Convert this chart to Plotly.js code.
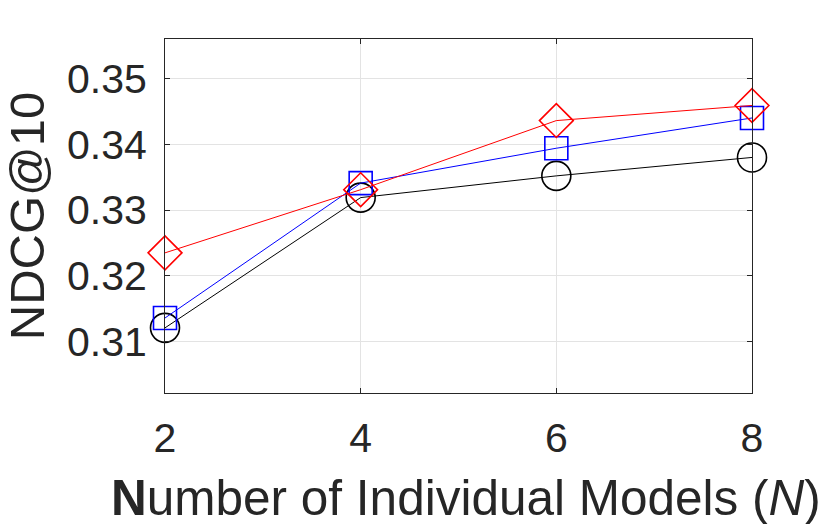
<!DOCTYPE html>
<html>
<head>
<meta charset="utf-8">
<script src="https://cdn.plot.ly/plotly-3.0.1.min.js"></script>
<style>html,body{margin:0;padding:0;background:#fff;}#chart{width:830px;height:524px;}</style>
</head>
<body>
<div id="chart"></div>
<script>
const xValues = [2, 4, 6, 8];
const seriesBlack = [0.3121, 0.3319, 0.3352, 0.3380];
const seriesBlue = [0.3136, 0.3341, 0.3394, 0.3440];
const seriesRed = [0.3235, 0.3331, 0.3436, 0.3459];
const yTickVals = [0.31, 0.32, 0.33, 0.34, 0.35];
const yTickText = ['0.31', '0.32', '0.33', '0.34', '0.35'];
const xTickVals = [2, 4, 6, 8];
const xTitle = '<b>N</b>umber of Individual Models (<i>N</i>)';
const yTitle = 'NDCG@10';

const textColor = '#262626';
function trace(y, color, symbol, size) {
  return {
    x: xValues, y: y, type: 'scatter', mode: 'lines+markers',
    line: {color: color, width: 1},
    marker: {symbol: symbol, size: size, color: color, line: {color: color, width: 1.6}},
    showlegend: false, cliponaxis: false
  };
}
const data = [
  trace(seriesBlack, '#000000', 'circle-open', 29),
  trace(seriesBlue, '#0000ff', 'square-open', 23),
  trace(seriesRed, '#ff0000', 'diamond-open', 26)
];
const layout = {
  width: 830, height: 524,
  margin: {l: 165, r: 78, t: 39, b: 131},
  paper_bgcolor: '#ffffff', plot_bgcolor: '#ffffff',
  font: {family: 'Liberation Sans, Arial, sans-serif', color: textColor},
  xaxis: {
    range: [2, 8], tickvals: xTickVals, ticktext: xTickVals.map(String),
    showgrid: true, gridcolor: '#e3e3e3', gridwidth: 1, zeroline: false,
    showline: true, linecolor: textColor, linewidth: 1, mirror: 'ticks',
    ticks: 'inside', ticklen: 5, tickcolor: textColor,
    tickfont: {size: 41, color: textColor}, ticklabelstandoff: 9,
    automargin: false
  },
  yaxis: {
    range: [0.3022, 0.356], tickvals: yTickVals, ticktext: yTickText,
    showgrid: true, gridcolor: '#e3e3e3', gridwidth: 1, zeroline: false,
    showline: true, linecolor: textColor, linewidth: 1, mirror: 'ticks',
    ticks: 'inside', ticklen: 5, tickcolor: textColor,
    tickfont: {size: 41, color: textColor}, ticklabelstandoff: 9,
    title: {text: yTitle, font: {size: 49, color: textColor}, standoff: 6},
    automargin: false
  },
  annotations: [{
    text: xTitle, xref: 'paper', yref: 'paper', x: 0.5128, y: -0.296,
    xanchor: 'center', yanchor: 'middle', showarrow: false,
    font: {size: 49.5, color: textColor}
  }]
};
Plotly.newPlot('chart', data, layout, {displayModeBar: false, staticPlot: true});
</script>
</body>
</html>
